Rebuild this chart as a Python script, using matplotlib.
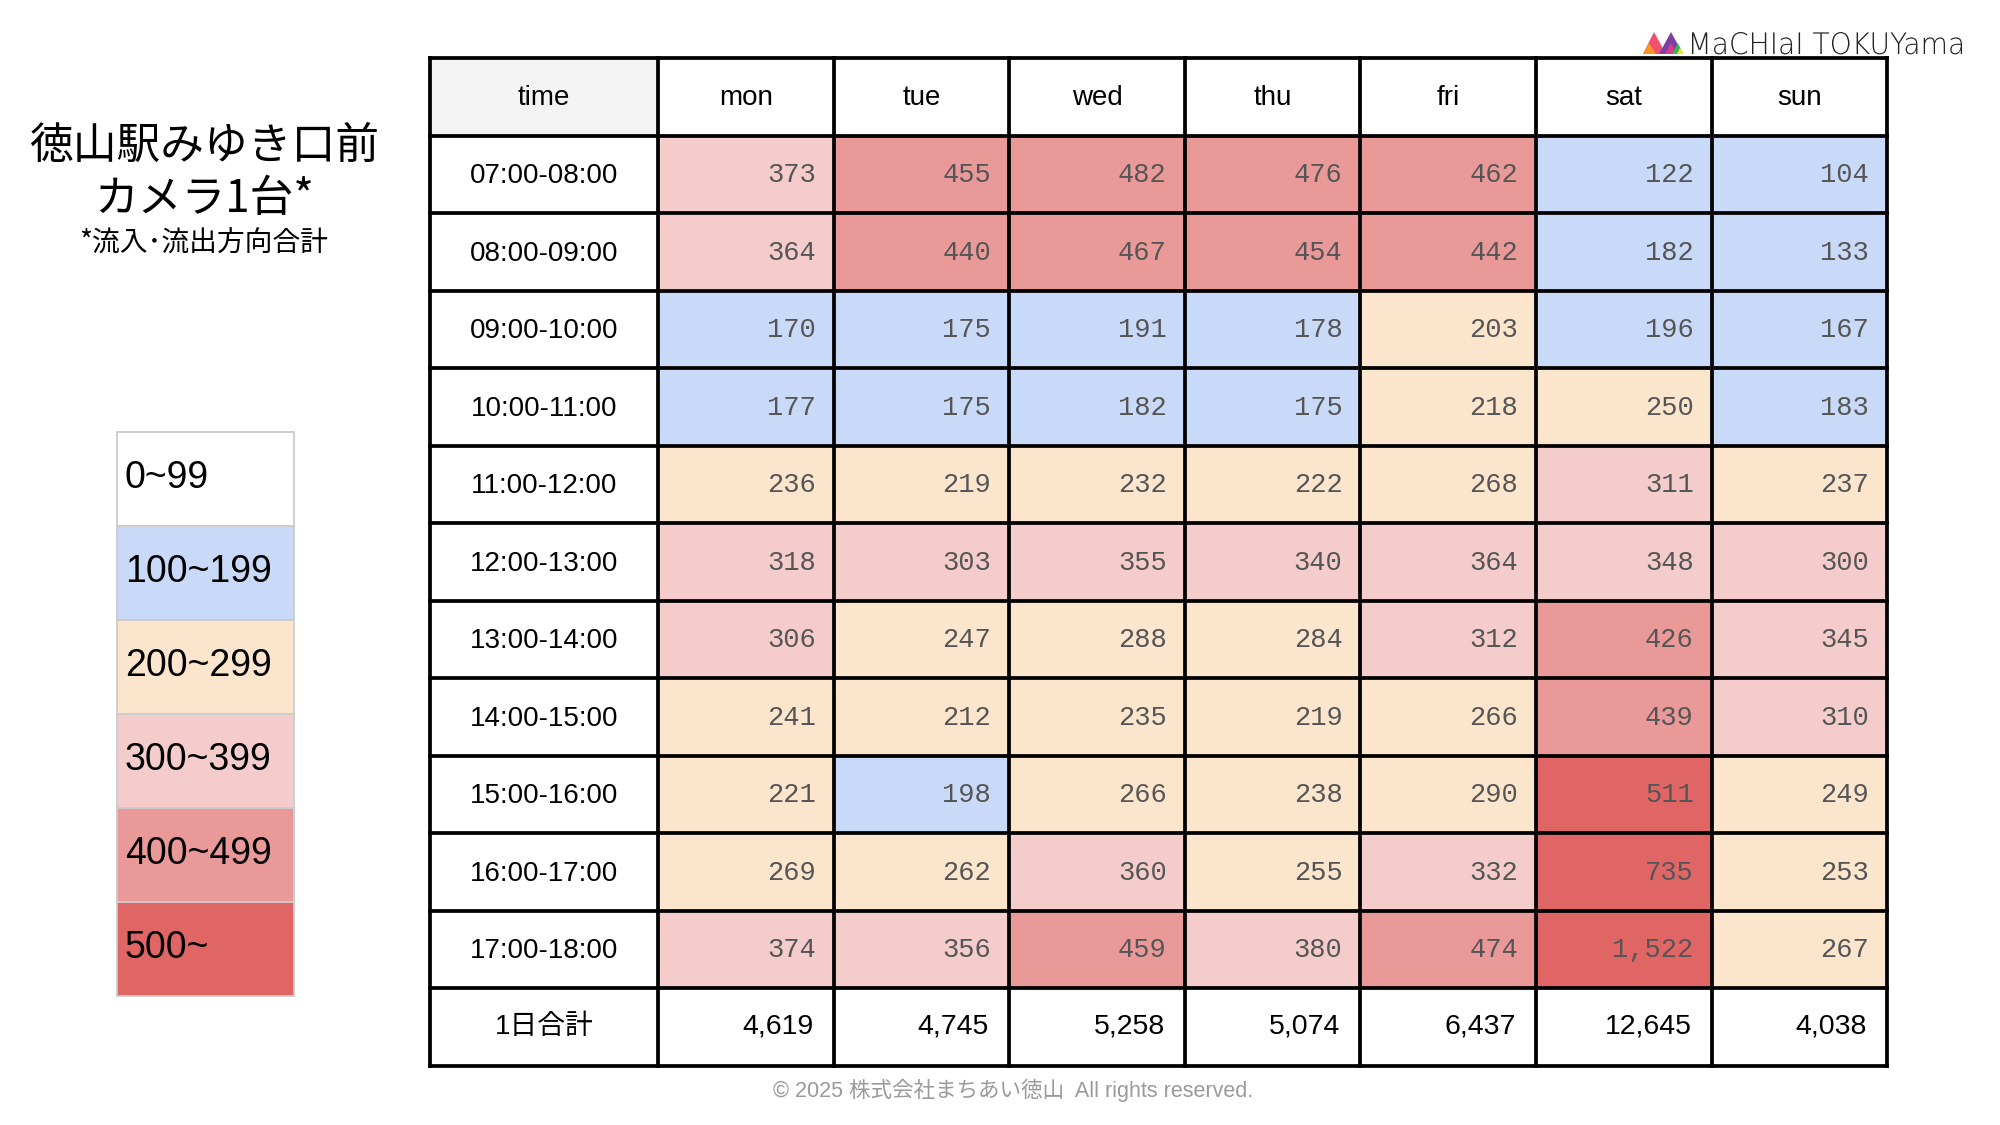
import numpy as np
import matplotlib
matplotlib.use("Agg")
import matplotlib.pyplot as plt
from matplotlib.patches import Rectangle, Polygon, PathPatch
from matplotlib.textpath import TextPath
from matplotlib.font_manager import FontProperties
from matplotlib.transforms import Affine2D

# ---------------- data ----------------
days = ["mon", "tue", "wed", "thu", "fri", "sat", "sun"]
time_slots = ["07:00-08:00", "08:00-09:00", "09:00-10:00", "10:00-11:00",
              "11:00-12:00", "12:00-13:00", "13:00-14:00", "14:00-15:00",
              "15:00-16:00", "16:00-17:00", "17:00-18:00"]
mon = [373, 364, 170, 177, 236, 318, 306, 241, 221, 269, 374]
tue = [455, 440, 175, 175, 219, 303, 247, 212, 198, 262, 356]
wed = [482, 467, 191, 182, 232, 355, 288, 235, 266, 360, 459]
thu = [476, 454, 178, 175, 222, 340, 284, 219, 238, 255, 380]
fri = [462, 442, 203, 218, 268, 364, 312, 266, 290, 332, 474]
sat = [122, 182, 196, 250, 311, 348, 426, 439, 511, 735, 1522]
sun = [104, 133, 167, 183, 237, 300, 345, 310, 249, 253, 267]
daily_totals = [4619, 4745, 5258, 5074, 6437, 12645, 4038]
total_label = "1日合計"
header_first = "time"

legend_labels = ["0~99", "100~199", "200~299", "300~399", "400~499", "500~"]
bin_edges = [100, 200, 300, 400, 500]
bin_colors = ["#ffffff", "#c9daf8", "#fce5cd", "#f4cccc", "#ea9999", "#e06666"]

title_lines = ["徳山駅みゆき口前", "カメラ1台*"]
subtitle = "*流入･流出方向合計"
footer = "© 2025 株式会社まちあい徳山  All rights reserved."
logo_text = "MaCHIaI TOKUYama"

values = np.array([mon, tue, wed, thu, fri, sat, sun]).T  # rows x days

# ---------------- layout ----------------
W, H = 2000, 1125
fig = plt.figure(figsize=(20, 11.25), dpi=100)
ax = fig.add_axes([0, 0, 1, 1])
ax.set_xlim(0, W)
ax.set_ylim(H, 0)
ax.axis("off")

LAT = ["Liberation Sans", "Noto Sans CJK JP", "DejaVu Sans"]
JP = ["Noto Sans CJK JP", "DejaVu Sans"]
MONO = ["Liberation Mono", "DejaVu Sans Mono"]

tx0, ty0 = 430, 58
time_w = 228
col_w = 175.6
row_h = 77.5
n_rows = len(time_slots) + 2
col_x = [tx0, tx0 + time_w] + [tx0 + time_w + col_w * (i + 1) for i in range(len(days))]
tx1 = col_x[-1]
ty1 = ty0 + row_h * n_rows

def row_y(r):
    return ty0 + row_h * r

# header
ax.add_patch(Rectangle((col_x[0], row_y(0)), time_w, row_h, facecolor="#f3f3f3", edgecolor="none"))
ax.text((col_x[0] + col_x[1]) / 2, row_y(0) + row_h / 2 + 1.5, header_first, ha="center", va="center",
        fontsize=20, family=LAT)
for j, d in enumerate(days):
    ax.text((col_x[j + 1] + col_x[j + 2]) / 2, row_y(0) + row_h / 2 + 1.5, d, ha="center", va="center",
            fontsize=20, family=LAT)

# body
for i, ts in enumerate(time_slots):
    yc = row_y(i + 1) + row_h / 2
    ax.text((col_x[0] + col_x[1]) / 2, yc + 2, ts, ha="center", va="center", fontsize=20, family=LAT)
    for j in range(len(days)):
        v = values[i, j]
        c = bin_colors[int(np.digitize(v, bin_edges))]
        ax.add_patch(Rectangle((col_x[j + 1], row_y(i + 1)), col_w, row_h, facecolor=c, edgecolor="none"))
        ax.text(col_x[j + 2] - 18, yc + 1, f"{v:,}", ha="right", va="center", fontsize=19.5,
                family=MONO, color="#555555")

# totals
yc = row_y(n_rows - 1) + row_h / 2
ax.text((col_x[0] + col_x[1]) / 2, yc, total_label, ha="center", va="center", fontsize=20, family=LAT)
for j, t in enumerate(daily_totals):
    ax.text(col_x[j + 2] - 20, yc, f"{t:,}", ha="right", va="center", fontsize=20.5, family=LAT)

# grid lines
lw = 2.7
for x in col_x:
    ax.plot([x, x], [ty0, ty1], color="black", lw=lw, solid_capstyle="projecting")
for r in range(n_rows + 1):
    ax.plot([tx0, tx1], [row_y(r), row_y(r)], color="black", lw=lw, solid_capstyle="projecting")

# ---------------- legend ----------------
lx0, ly0, lw_, lh = 117, 432, 177, 94
for k, (lab, c) in enumerate(zip(legend_labels, bin_colors)):
    ax.add_patch(Rectangle((lx0, ly0 + k * lh), lw_, lh, facecolor=c, edgecolor="#cccccc", lw=1.3))
    ax.text(lx0 + 8, ly0 + k * lh + lh / 2 - 1, lab, ha="left", va="center", fontsize=27, family=LAT)

# ---------------- title ----------------
ax.text(204, 146, title_lines[0], ha="center", va="center", fontsize=31.5, family=JP)
ax.text(204, 199, title_lines[1], ha="center", va="center", fontsize=31.5, family=JP)
ax.text(204, 244, subtitle, ha="center", va="center", fontsize=20, family=JP)

# ---------------- footer ----------------
ax.text(1013, 1090, footer, ha="center", va="center", fontsize=15.5, family=LAT, color="#9a9a9a")

# ---------------- logo ----------------
ax.add_patch(Polygon([[1643, 54], [1654, 32], [1666, 54]], closed=True, facecolor="#f0506e", edgecolor="none"))
ax.add_patch(Polygon([[1643, 54], [1649, 43], [1656, 54]], closed=True, facecolor="#f7931e", edgecolor="none"))
ax.add_patch(Polygon([[1659, 54], [1671, 32], [1683, 54]], closed=True, facecolor="#7b3fa0", edgecolor="none"))
ax.add_patch(Polygon([[1665, 54], [1671, 43], [1677, 54]], closed=True, facecolor="#d63a8c", edgecolor="none"))
ax.add_patch(Polygon([[1672, 54], [1678, 43], [1683, 54]], closed=True, facecolor="#3cb44b", edgecolor="none"))
ax.add_patch(Polygon([[1677, 54], [1680, 48], [1684, 54]], closed=True, facecolor="#f5e02c", edgecolor="none"))

tp = TextPath((0, 0), logo_text, size=30, prop=FontProperties(family="DejaVu Sans", weight="light"))
ext = tp.get_extents()
target_w, target_h = 270, 22
sx = target_w / ext.width
sy = target_h / (ext.y1 if ext.y1 > 0 else 1)
tr = Affine2D().translate(-ext.x0, 0).scale(sx, -sy).translate(1692, 54)
ax.add_patch(PathPatch(tr.transform_path(tp), facecolor="#222222", edgecolor="none"))

fig.savefig("out.png", dpi=100, facecolor="white")
